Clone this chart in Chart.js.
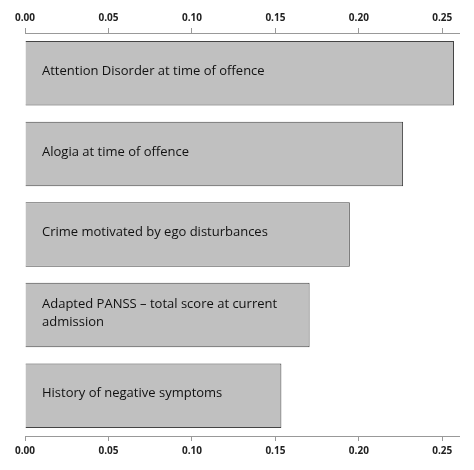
<!DOCTYPE html>
<html>
<head>
<meta charset="UTF-8" />
<script src="https://cdn.jsdelivr.net/npm/chart.js"></script>
<style>
  html, body { margin: 0; background: #fff; }
  #wrap { width: 474px; height: 470px; }
</style>
</head>
<body>
<div id="wrap"><canvas id="c"></canvas></div>
<script>
  const labels = [
    ['Attention Disorder at time of offence'],
    ['Alogia at time of offence'],
    ['Crime motivated by ego disturbances'],
    ['Adapted PANSS \u2013 total score at current', 'admission'],
    ['History of negative symptoms']
  ];
  const values = [0.257, 0.2265, 0.1946, 0.1705, 0.1536];
  const tickValues = [0, 0.05, 0.10, 0.15, 0.20, 0.25];

  // text inside bars
  const barText = {
    id: 'barText',
    afterDatasetsDraw(chart) {
      const ctx = chart.ctx;
      const meta = chart.getDatasetMeta(0);
      ctx.save();
      ctx.fillStyle = '#111';
      ctx.font = '13px "Open Sans", sans-serif';
      ctx.textBaseline = 'middle';
      meta.data.forEach((bar, i) => {
        const lines = labels[i];
        const y0 = bar.y - 2 - (lines.length - 1) * 9;
        lines.forEach((t, j) => ctx.fillText(t, 42, y0 + j * 18));
      });
      ctx.restore();
    }
  };

  const xAxis = (pos) => ({
    type: 'linear', position: pos, min: 0, max: 0.26,
    afterBuildTicks: (s) => { s.ticks = tickValues.map(v => ({ value: v })); },
    ticks: {
      callback: v => v.toFixed(2),
      font: { size: 10, weight: 'bold', family: '"Open Sans", sans-serif' },
      color: '#222', padding: 4, maxRotation: 0
    },
    grid: { drawOnChartArea: false, tickLength: 5, color: '#999' },
    border: { color: '#999' }
  });

  new Chart(document.getElementById('c'), {
    type: 'bar',
    data: {
      labels: labels.map(l => l.join(' ')),
      datasets: [{
        data: values,
        backgroundColor: '#c0c0c0',
        borderColor: '#444',
        borderWidth: 1,
        categoryPercentage: 1,
        barPercentage: 0.8
      }]
    },
    options: {
      indexAxis: 'y',
      responsive: true,
      maintainAspectRatio: false,
      animation: false,
      layout: { padding: { left: 25, right: 15, top: 8, bottom: 9 } },
      plugins: { legend: { display: false }, tooltip: { enabled: false } },
      scales: {
        x: xAxis('top'),
        x2: xAxis('bottom'),
        y: { display: false }
      }
    },
    plugins: [barText]
  });
</script>
</body>
</html>
